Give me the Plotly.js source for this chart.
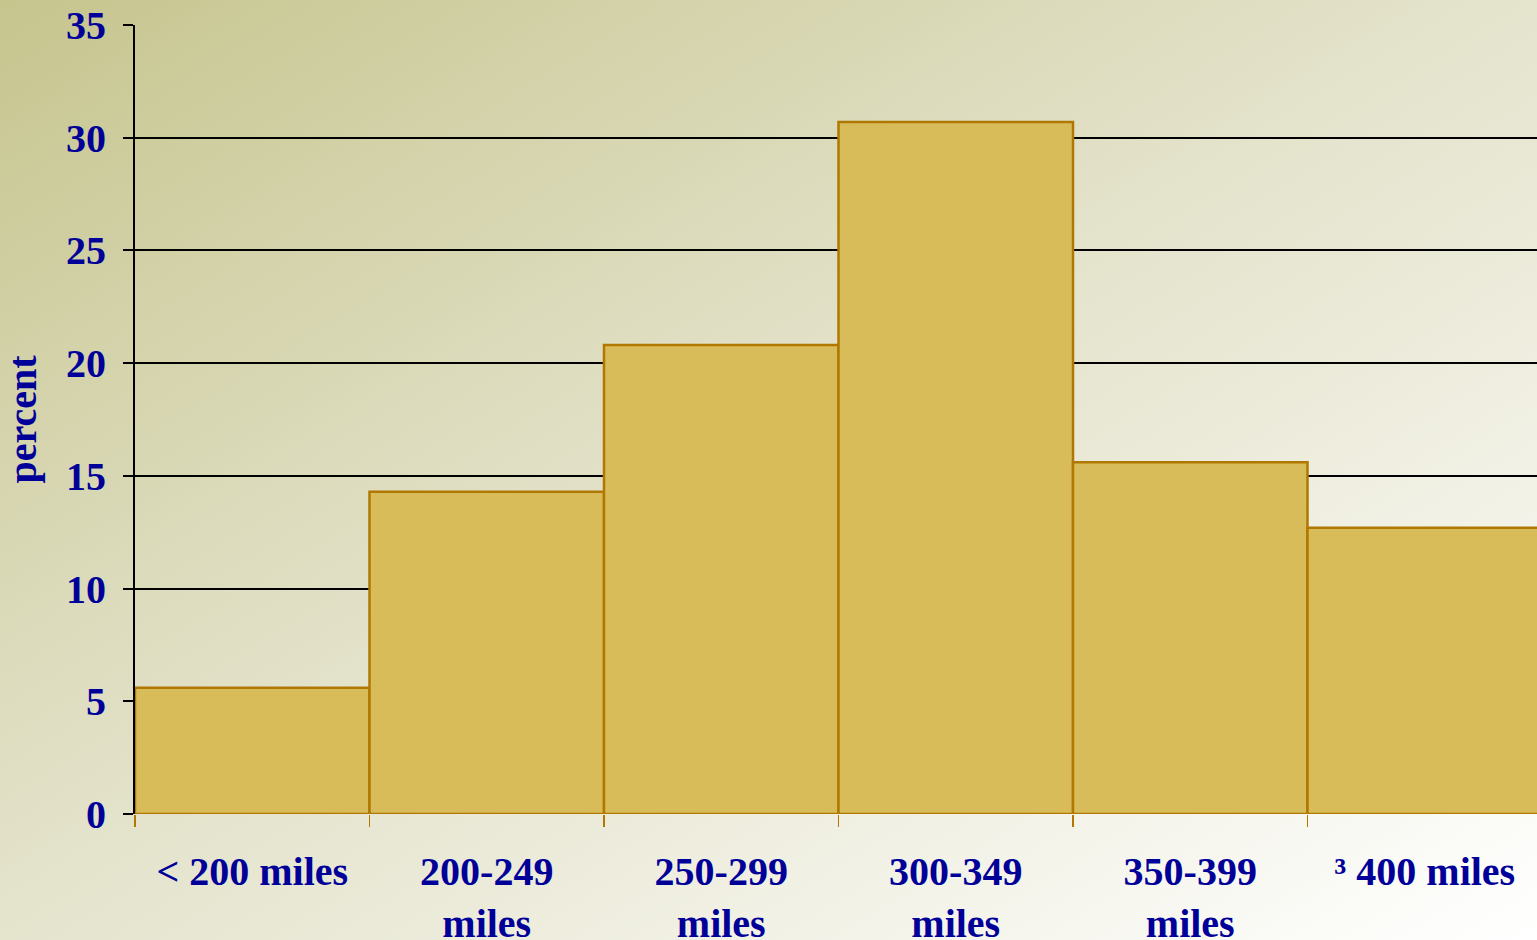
<!DOCTYPE html>
<html>
<head>
<meta charset="utf-8">
<script src="https://cdn.plot.ly/plotly-3.0.1.min.js"></script>
<style>
  html, body { margin: 0; padding: 0; width: 1537px; height: 940px; overflow: hidden; }
  body { background: linear-gradient(to bottom right, #C6C58E 0%, #E2E1C8 45%, #FFFFFF 100%); }
  #chart { width: 1545px; height: 940px; }
</style>
</head>
<body>
<div id="chart"></div>
<script>
const categories = ["< 200 miles", "200-249<br>miles", "250-299<br>miles", "300-349<br>miles", "350-399<br>miles", "³ 400 miles"];
const percentValues = [5.6, 14.3, 20.8, 30.7, 15.6, 12.7];
const yTickValues = [0, 5, 10, 15, 20, 25, 30, 35];

const navy = "#000099";
const fontFamily = "'Liberation Serif', 'Times New Roman', serif";

const trace = {
  type: "bar",
  x: categories,
  y: percentValues,
  marker: { color: "#D9BC5A", line: { color: "#B07800", width: 2.5 } },
  hoverinfo: "skip"
};

const layout = {
  width: 1545,
  height: 940,
  margin: { l: 135, r: 3, t: 25, b: 126 },
  paper_bgcolor: "rgba(0,0,0,0)",
  plot_bgcolor: "rgba(0,0,0,0)",
  bargap: 0,
  showlegend: false,
  font: { family: fontFamily, color: navy, size: 40, weight: 700 },
  xaxis: {
    type: "category",
    tickson: "boundaries",
    ticks: "outside",
    ticklen: 12,
    tickwidth: 1.5,
    tickcolor: "#B07800",
    showgrid: false,
    showline: false,
    zeroline: false,
    tickfont: { family: fontFamily, color: navy, size: 40, weight: 700 },
    ticklabelstandoff: 30,
    automargin: false
  },
  yaxis: {
    range: [0, 35],
    tickvals: yTickValues,
    ticktext: yTickValues.map(String),
    ticks: "outside",
    ticklen: 10,
    tickwidth: 2,
    tickcolor: "#000000",
    showgrid: true,
    gridcolor: "#000000",
    gridwidth: 2,
    showline: true,
    linecolor: "#000000",
    linewidth: 2,
    zeroline: false,
    tickfont: { family: fontFamily, color: navy, size: 40, weight: 700 },
    ticklabelstandoff: 9,
    automargin: false,
    title: { text: "percent", font: { family: fontFamily, color: navy, size: 40, weight: 700 }, standoff: 18 }
  }
};

Plotly.newPlot("chart", [trace], layout, { staticPlot: true, displayModeBar: false });
</script>
</body>
</html>
